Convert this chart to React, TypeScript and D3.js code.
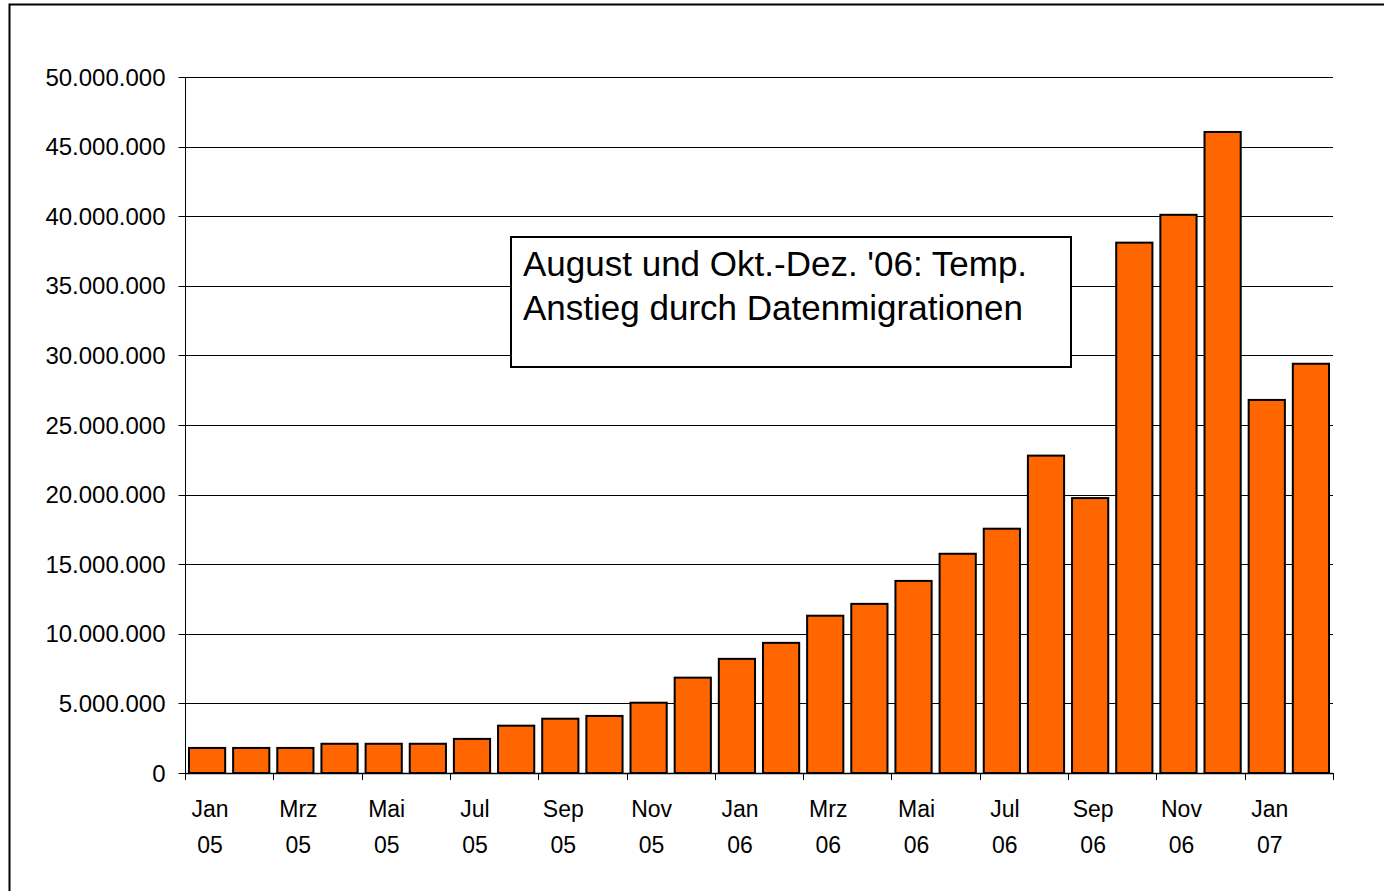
import React, { useEffect, useRef } from 'react';
import * as d3 from 'd3';

const categories = [
  'Jan 05', 'Feb 05', 'Mrz 05', 'Apr 05', 'Mai 05', 'Jun 05', 'Jul 05', 'Aug 05', 'Sep 05', 'Okt 05', 'Nov 05', 'Dez 05',
  'Jan 06', 'Feb 06', 'Mrz 06', 'Apr 06', 'Mai 06', 'Jun 06', 'Jul 06', 'Aug 06', 'Sep 06', 'Okt 06', 'Nov 06', 'Dez 06',
  'Jan 07', 'Feb 07',
];
const values = [
  1800000, 1800000, 1800000, 2100000, 2100000, 2100000, 2450000, 3400000, 3900000, 4100000, 5050000, 6850000,
  8200000, 9350000, 11300000, 12150000, 13800000, 15750000, 17550000, 22800000, 19750000, 38100000, 40100000, 46050000,
  26800000, 29400000,
];
const yTicks = [0, 5000000, 10000000, 15000000, 20000000, 25000000, 30000000, 35000000, 40000000, 45000000, 50000000];
const noteLines = ["August und Okt.-Dez. '06: Temp.", 'Anstieg durch Datenmigrationen'];

const W = 1384, H = 891;
const margin = { left: 185, right: 51, top: 77, bottom: 118 };
const font = '"Liberation Sans", Arial, sans-serif';

export default function App() {
  const ref = useRef<SVGSVGElement>(null);

  useEffect(() => {
    const svg = d3.select(ref.current);
    svg.selectAll('*').remove();

    const x = d3.scaleBand().domain(categories).range([margin.left, W - margin.right]).paddingInner(0.18).paddingOuter(0.09);
    const y = d3.scaleLinear().domain([0, 50000000]).range([H - margin.bottom, margin.top]);
    const fmt = d3.formatLocale({ decimal: ',', thousands: '.', grouping: [3], currency: ['', '€'] }).format(',d');

    // outer frame (chart area border, runs off the page right and bottom)
    svg.append('rect').attr('x', 9.5).attr('y', 4.5).attr('width', W + 10).attr('height', H + 10)
      .attr('fill', 'white').attr('stroke', '#000').attr('stroke-width', 2);

    // grid lines
    svg.append('g').selectAll('line').data(yTicks.slice(1)).join('line')
      .attr('x1', margin.left).attr('x2', W - margin.right)
      .attr('y1', d => Math.round(y(d)) + 0.5).attr('y2', d => Math.round(y(d)) + 0.5)
      .attr('stroke', '#000').attr('stroke-width', 1);

    // y axis
    const yAxis = svg.append('g').attr('transform', `translate(${margin.left + 0.5},0)`);
    yAxis.append('line').attr('y1', y(0)).attr('y2', y(50000000)).attr('stroke', '#000');
    yAxis.selectAll('line.tick').data(yTicks).join('line').attr('class', 'tick')
      .attr('x1', -7).attr('x2', 0)
      .attr('y1', d => Math.round(y(d)) + 0.5).attr('y2', d => Math.round(y(d)) + 0.5)
      .attr('stroke', '#000');
    yAxis.selectAll('text').data(yTicks).join('text')
      .attr('x', -20).attr('y', d => y(d)).attr('dy', '0.36em')
      .attr('text-anchor', 'end').attr('font-family', font).attr('font-size', 24)
      .text(d => fmt(d));

    // bars
    svg.append('g').selectAll('rect').data(values).join('rect')
      .attr('x', (d, i) => x(categories[i])!)
      .attr('width', x.bandwidth())
      .attr('y', d => y(d))
      .attr('height', d => y(0) - y(d))
      .attr('fill', '#FF6600').attr('stroke', '#000').attr('stroke-width', 2);

    // x axis
    const base = y(0);
    svg.append('line').attr('x1', margin.left).attr('x2', W - margin.right)
      .attr('y1', base + 0.5).attr('y2', base + 0.5).attr('stroke', '#000').attr('stroke-width', 1.5);
    const step = x.step();
    const bounds = d3.range(0, categories.length + 1, 2).map(i => margin.left + i * step);
    svg.append('g').selectAll('line').data(bounds).join('line')
      .attr('x1', d => Math.round(d) + 0.5).attr('x2', d => Math.round(d) + 0.5)
      .attr('y1', base).attr('y2', base + 7).attr('stroke', '#000');
    const labelled = categories.filter((c, i) => i % 2 === 0);
    const xl = svg.append('g').attr('font-family', font).attr('font-size', 23).attr('text-anchor', 'middle');
    labelled.forEach(c => {
      const [m, yr] = c.split(' ');
      const cx = x(c)! + x.bandwidth() / 2 + 3;
      xl.append('text').attr('x', cx).attr('y', base + 44).text(m);
      xl.append('text').attr('x', cx).attr('y', base + 80).text(yr);
    });

    // annotation
    svg.append('rect').attr('x', 511).attr('y', 237).attr('width', 560).attr('height', 130)
      .attr('fill', 'white').attr('stroke', '#000').attr('stroke-width', 2);
    svg.append('g').attr('font-family', font).attr('font-size', 35)
      .selectAll('text').data(noteLines).join('text')
      .attr('x', 523).attr('y', (d, i) => 276 + i * 44).text(d => d);
  }, []);

  return (
    <div style={{ position: 'absolute', left: 0, top: 0, width: W, height: H, overflow: 'hidden', background: 'white' }}>
      <svg ref={ref} width={W} height={H} />
    </div>
  );
}
